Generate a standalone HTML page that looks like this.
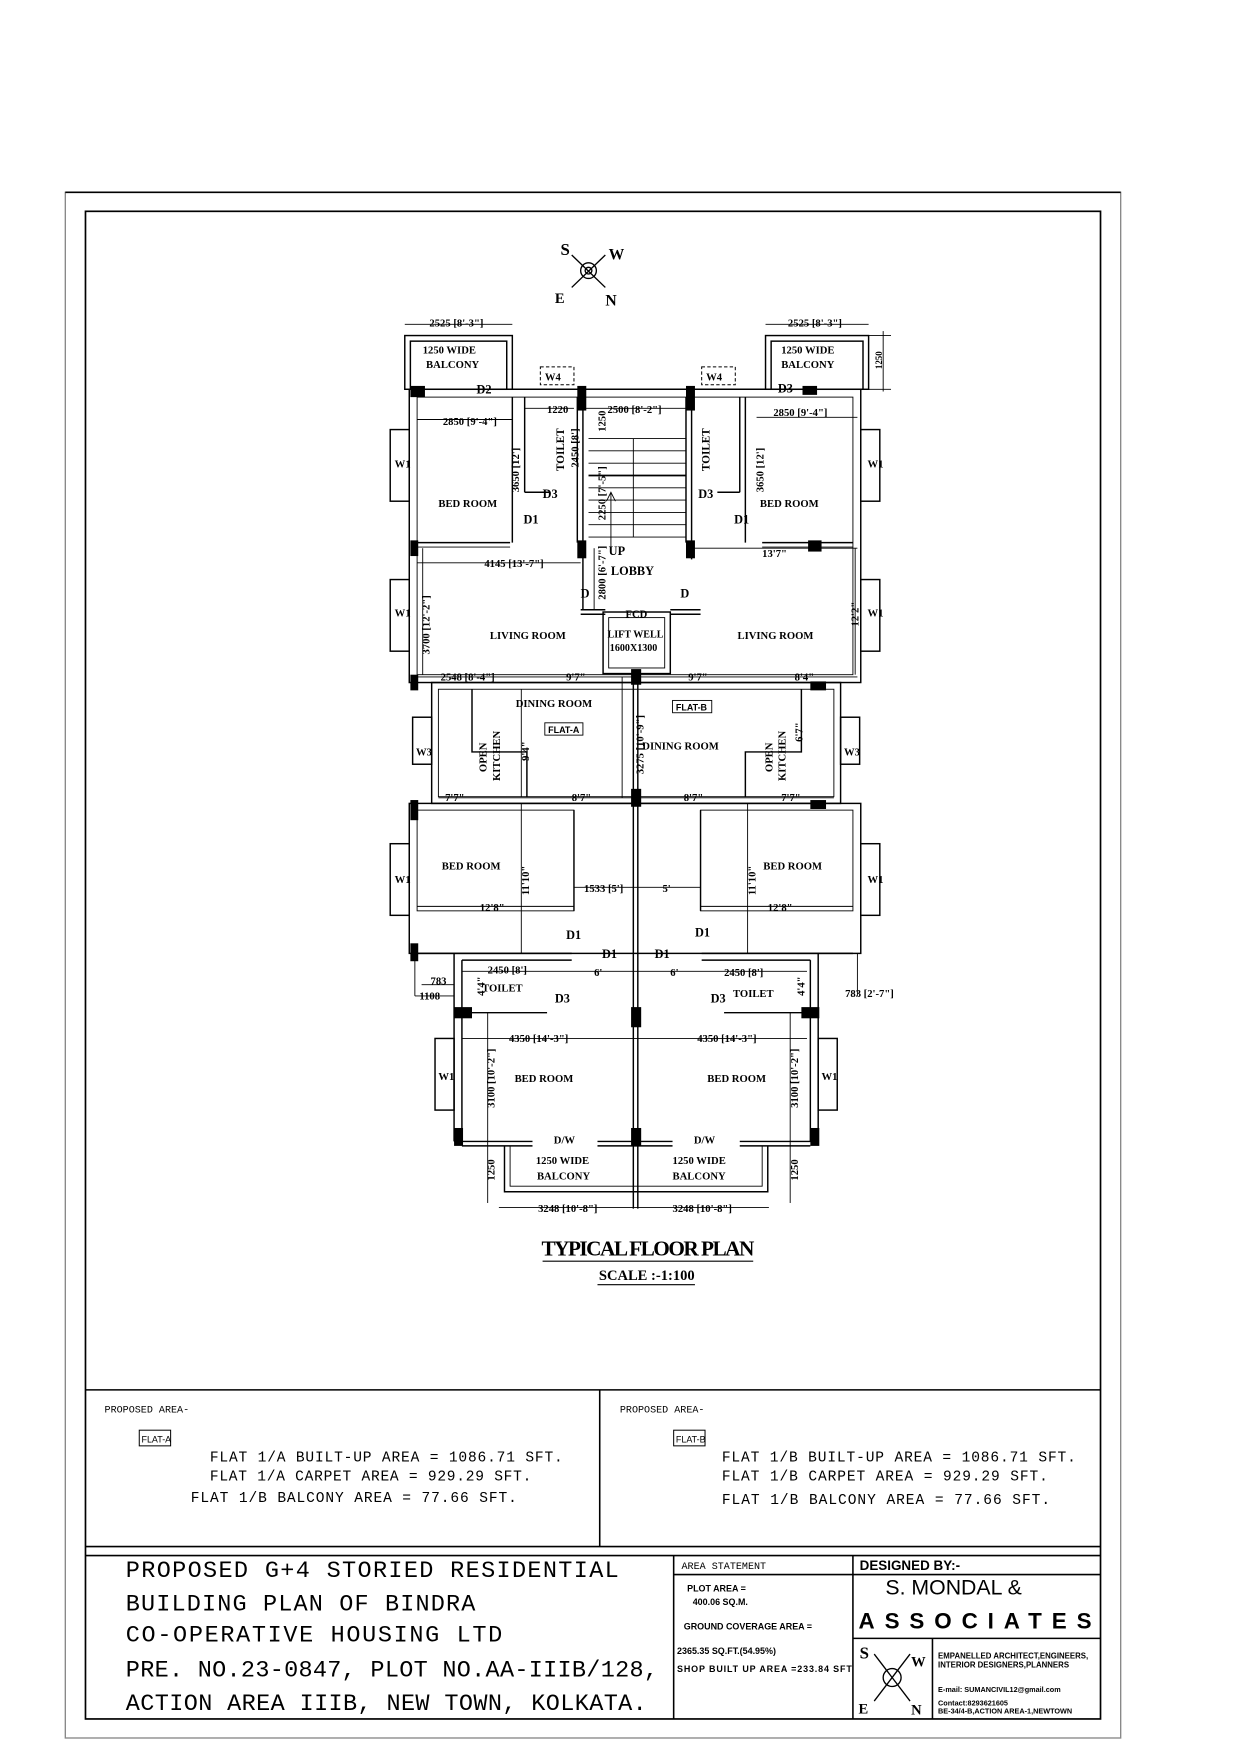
<!DOCTYPE html>
<html><head><meta charset="utf-8"><style>
html,body{margin:0;padding:0;background:#fff;}
svg{display:block;}
.l{font-family:"Liberation Serif",serif;font-weight:bold;fill:#000;}
.m{font-family:"Liberation Mono",monospace;fill:#000;}
.s{font-family:"Liberation Sans",sans-serif;fill:#000;}
</style></head><body>
<svg width="1240" height="1755" viewBox="-0.3 0.2 1106.8 1568" preserveAspectRatio="none" xmlns="http://www.w3.org/2000/svg">
<rect x="-1" y="0" width="1110" height="1575" fill="#fff"/>
<!-- borders -->
<rect x="58" y="172" width="942" height="1381" fill="none" stroke="#888" stroke-width="1.2"/>
<line x1="58" y1="172" x2="1000" y2="172" stroke="#000" stroke-width="1.5"/>
<rect x="76" y="189" width="906" height="1347" fill="none" stroke="#000" stroke-width="1.5"/>
<!-- compass -->
<g stroke="#000" fill="none" stroke-width="1.2">
<circle cx="525" cy="242" r="7"/><line x1="510" y1="228" x2="540" y2="257"/><line x1="540" y1="228" x2="510" y2="257"/>
<circle cx="525" cy="242" r="3"/></g>
<text class="l" x="500" y="228" font-size="15">S</text><text class="l" x="543" y="232" font-size="14">W</text>
<text class="l" x="495" y="271" font-size="13">E</text><text class="l" x="540" y="273" font-size="14">N</text>

<g stroke="#000" fill="none" stroke-width="1.3">
<rect x="361" y="300" width="96" height="48"/><rect x="366" y="305" width="86" height="43"/>
<rect x="683" y="300" width="92" height="48"/><rect x="688" y="305" width="82" height="43"/>
<line x1="457" y1="348" x2="683" y2="348"/>
<line x1="361" y1="290" x2="457" y2="290" stroke-width="0.8"/>
<line x1="683" y1="290" x2="775" y2="290" stroke-width="0.8"/>
<line x1="775" y1="300" x2="795" y2="300" stroke-width="0.8"/><line x1="775" y1="348" x2="795" y2="348" stroke-width="0.8"/><line x1="788" y1="296" x2="788" y2="350" stroke-width="0.8"/>
<rect x="482" y="328" width="30" height="16" stroke-dasharray="3,2" stroke-width="0.9"/>
<rect x="626" y="328" width="30" height="16" stroke-dasharray="3,2" stroke-width="0.9"/>
<rect x="365" y="348" width="403" height="262"/>
<rect x="372" y="355" width="389" height="248" stroke-width="0.8"/>
<line x1="457" y1="355" x2="457" y2="485"/><line x1="468" y1="355" x2="468" y2="440"/>
<line x1="515" y1="355" x2="515" y2="485"/><line x1="520" y1="355" x2="520" y2="545"/>
<line x1="612" y1="355" x2="612" y2="485"/><line x1="617" y1="355" x2="617" y2="485"/>
<line x1="660" y1="355" x2="660" y2="440"/><line x1="665" y1="355" x2="665" y2="485"/>
<line x1="468" y1="440" x2="490" y2="440"/><line x1="640" y1="440" x2="660" y2="440"/>
<g stroke-width="0.8">
<line x1="525" y1="392" x2="612" y2="392"/><line x1="525" y1="403" x2="612" y2="403"/><line x1="525" y1="414" x2="612" y2="414"/>
<line x1="525" y1="425" x2="612" y2="425" stroke-width="1.6"/><line x1="525" y1="436" x2="612" y2="436"/><line x1="525" y1="447" x2="612" y2="447"/>
<line x1="525" y1="458" x2="612" y2="458"/><line x1="525" y1="469" x2="612" y2="469"/><line x1="525" y1="480" x2="612" y2="480"/>
<line x1="565" y1="392" x2="565" y2="480"/>
<line x1="545" y1="490" x2="545" y2="440"/><polyline points="541,448 545,440 549,448"/>
</g>
<line x1="372" y1="485" x2="455" y2="485"/><line x1="372" y1="489" x2="455" y2="489" stroke-width="0.8"/>
<line x1="680" y1="485" x2="761" y2="485"/><line x1="680" y1="489" x2="761" y2="489" stroke-width="0.8"/>
<line x1="617" y1="485" x2="617" y2="500"/>
<rect x="538" y="547" width="60" height="55"/><rect x="543" y="552" width="50" height="45" stroke-width="0.8"/>
<line x1="518" y1="545" x2="540" y2="545"/><line x1="598" y1="545" x2="625" y2="545"/>
<line x1="518" y1="549" x2="540" y2="549"/><line x1="598" y1="549" x2="625" y2="549"/>
<rect x="385" y="610" width="365" height="108"/><rect x="391" y="616" width="353" height="96" stroke-width="0.8"/>
<polyline points="421,616 421,672 470,672 470,712"/><polyline points="715,616 715,672 665,672 665,712"/>
<line x1="465" y1="616" x2="465" y2="712" stroke-width="0.8"/>
<line x1="565" y1="600" x2="565" y2="1080"/><line x1="569" y1="600" x2="569" y2="1080"/>
<rect x="365" y="718" width="403" height="134"/>
<rect x="372" y="724" width="140" height="90" stroke-width="0.8"/><line x1="512" y1="724" x2="512" y2="814"/>
<rect x="625" y="724" width="136" height="90" stroke-width="0.8"/><line x1="625" y1="724" x2="625" y2="814"/>
<line x1="372" y1="852" x2="510" y2="852"/><line x1="626" y1="852" x2="761" y2="852"/>
<line x1="405" y1="852" x2="405" y2="1020"/><line x1="412" y1="858" x2="412" y2="1020"/>
<line x1="730" y1="852" x2="730" y2="1020"/><line x1="723" y1="858" x2="723" y2="1020"/>
<line x1="412" y1="858" x2="510" y2="858"/><line x1="626" y1="858" x2="723" y2="858"/>
<line x1="412" y1="905" x2="488" y2="905"/><line x1="646" y1="905" x2="723" y2="905"/>
<line x1="370" y1="852" x2="370" y2="890" stroke-width="0.8"/><line x1="765" y1="852" x2="765" y2="890" stroke-width="0.8"/>
<line x1="405" y1="1020" x2="475" y2="1020"/><line x1="412" y1="1024" x2="475" y2="1024"/>
<line x1="533" y1="1020" x2="600" y2="1020"/><line x1="533" y1="1024" x2="600" y2="1024"/>
<line x1="660" y1="1020" x2="730" y2="1020"/><line x1="660" y1="1024" x2="723" y2="1024"/>
<polyline points="450,1024 450,1065 685,1065 685,1024"/><polyline points="455,1024 455,1060 680,1060 680,1024" stroke-width="0.8"/>
<rect x="348" y="384" width="17" height="64"/><rect x="768" y="384" width="17" height="64"/>
<rect x="348" y="518" width="17" height="64"/><rect x="768" y="518" width="17" height="64"/>
<rect x="368" y="641" width="17" height="42"/><rect x="750" y="641" width="17" height="42"/>
<rect x="348" y="754" width="17" height="64"/><rect x="768" y="754" width="17" height="64"/>
<rect x="388" y="928" width="17" height="64"/><rect x="730" y="928" width="17" height="64"/>
</g>
<g fill="#000">
<rect x="366" y="345" width="13" height="10"/><rect x="515" y="345" width="8" height="22"/><rect x="612" y="345" width="8" height="22"/><rect x="716" y="345" width="13" height="8"/>
<rect x="366" y="483" width="7" height="14"/><rect x="515" y="483" width="8" height="16"/><rect x="612" y="483" width="8" height="16"/><rect x="721" y="483" width="12" height="10"/>
<rect x="366" y="603" width="7" height="14"/><rect x="563" y="598" width="9" height="14"/><rect x="723" y="609" width="14" height="8"/>
<rect x="563" y="705" width="9" height="16"/><rect x="366" y="715" width="7" height="18"/><rect x="723" y="715" width="14" height="8"/>
<rect x="366" y="843" width="7" height="16"/>
<rect x="405" y="900" width="16" height="10"/><rect x="563" y="900" width="9" height="18"/><rect x="715" y="900" width="16" height="10"/>
<rect x="405" y="1008" width="8" height="16"/><rect x="563" y="1008" width="9" height="16"/><rect x="723" y="1008" width="8" height="16"/>
</g>
<g stroke="#000" stroke-width="0.8">
<line x1="372" y1="375" x2="457" y2="375"/><line x1="468" y1="365" x2="512" y2="365"/><line x1="520" y1="365" x2="612" y2="365"/>
<line x1="675" y1="373" x2="765" y2="373"/><line x1="372" y1="503" x2="518" y2="503"/><line x1="615" y1="490" x2="765" y2="490"/>
<line x1="372" y1="605" x2="765" y2="605"/><line x1="391" y1="713" x2="744" y2="713"/>
<line x1="372" y1="810" x2="512" y2="810"/><line x1="625" y1="810" x2="761" y2="810"/><line x1="512" y1="793" x2="625" y2="793"/>
<line x1="412" y1="868" x2="720" y2="868"/><line x1="412" y1="928" x2="720" y2="928"/>
<line x1="445" y1="1079" x2="686" y2="1079"/><line x1="376" y1="880" x2="405" y2="880"/><line x1="370" y1="890" x2="405" y2="890"/>
<line x1="435" y1="1020" x2="435" y2="1075"/><line x1="705" y1="1020" x2="705" y2="1075"/>
<line x1="435" y1="905" x2="435" y2="1020"/><line x1="705" y1="905" x2="705" y2="1020"/>
<line x1="465" y1="718" x2="465" y2="852"/><line x1="667" y1="718" x2="667" y2="852"/>
<line x1="377" y1="490" x2="377" y2="603"/><line x1="763" y1="490" x2="763" y2="603"/>
<line x1="530" y1="490" x2="530" y2="545"/><line x1="555" y1="605" x2="555" y2="713"/>
</g>
<g class="l" font-size="9.5">
<text x="383" y="292">2525 [8'-3"]</text><text x="703" y="292">2525 [8'-3"]</text>
<text x="377" y="316">1250 WIDE</text><text x="380" y="329">BALCONY</text>
<text x="697" y="316">1250 WIDE</text><text x="697" y="329">BALCONY</text>
<text x="486" y="340">W4</text><text x="630" y="340">W4</text>
<text x="425" y="352" font-size="11">D2</text><text x="694" y="351" font-size="11">D3</text>
<text x="488" y="369">1220</text><text x="542" y="369">2500 [8'-2"]</text>
<text x="395" y="380">2850 [9'-4"]</text><text x="690" y="372">2850 [9'-4"]</text>
<text x="352" y="418">W1</text><text x="774" y="418">W1</text>
<text x="391" y="453">BED ROOM</text><text x="678" y="453">BED ROOM</text>
<text x="484" y="445" font-size="11">D3</text><text x="623" y="445" font-size="11">D3</text>
<text x="467" y="468" font-size="11">D1</text><text x="655" y="468" font-size="11">D1</text>
<text x="543" y="496" font-size="11">UP</text><text x="545" y="514" font-size="11">LOBBY</text>
<text x="432" y="507">4145 [13'-7"]</text><text x="680" y="498">13'7"</text>
<text x="518" y="534" font-size="11">D</text><text x="607" y="534" font-size="11">D</text>
<text x="558" y="552">FCD</text>
<text x="352" y="551">W1</text><text x="774" y="551">W1</text>
<text x="437" y="571">LIVING ROOM</text><text x="658" y="571">LIVING ROOM</text>
<text x="542" y="570" font-size="9">LIFT WELL</text><text x="544" y="582" font-size="9">1600X1300</text>
<text x="393" y="608">2548 [8'-4"]</text><text x="505" y="608">9'7"</text><text x="614" y="608">9'7"</text><text x="709" y="608">8'4"</text>
<text x="460" y="632">DINING ROOM</text><text x="573" y="670">DINING ROOM</text>
<rect x="486" y="646" width="34" height="11" fill="none" stroke="#000" stroke-width="0.8"/><text x="489" y="655" font-size="8" class="s">FLAT-A</text>
<rect x="600" y="626" width="35" height="11" fill="none" stroke="#000" stroke-width="0.8"/><text x="603" y="635" font-size="8" class="s">FLAT-B</text>
<text x="371" y="675">W3</text><text x="753" y="675">W3</text>
<text x="397" y="716">7'7"</text><text x="510" y="716">8'7"</text><text x="610" y="716">8'7"</text><text x="697" y="716">7'7"</text>
<text x="394" y="777">BED ROOM</text><text x="681" y="777">BED ROOM</text>
<text x="352" y="789">W1</text><text x="774" y="789">W1</text>
<text x="521" y="797">1533 [5']</text><text x="591" y="797">5'</text>
<text x="428" y="814">12'8"</text><text x="685" y="814">12'8"</text>
<text x="505" y="839" font-size="11">D1</text><text x="620" y="837" font-size="11">D1</text>
<text x="537" y="856" font-size="11">D1</text><text x="584" y="856" font-size="11">D1</text>
<text x="435" y="870">2450 [8']</text><text x="646" y="872">2450 [8']</text><text x="530" y="872">6'</text><text x="598" y="872">6'</text>
<text x="430" y="886">TOILET</text><text x="654" y="891">TOILET</text>
<text x="384" y="880">783</text><text x="374" y="893">1108</text><text x="754" y="891">783 [2'-7"]</text>
<text x="495" y="896" font-size="11">D3</text><text x="634" y="896" font-size="11">D3</text>
<text x="454" y="931">4350 [14'-3"]</text><text x="622" y="931">4350 [14'-3"]</text>
<text x="391" y="965">W1</text><text x="733" y="965">W1</text>
<text x="459" y="967">BED ROOM</text><text x="631" y="967">BED ROOM</text>
<text x="494" y="1022">D/W</text><text x="619" y="1022">D/W</text>
<text x="478" y="1040">1250 WIDE</text><text x="479" y="1054">BALCONY</text>
<text x="600" y="1040">1250 WIDE</text><text x="600" y="1054">BALCONY</text>
<text x="480" y="1083">3248 [10'-8"]</text><text x="600" y="1083">3248 [10'-8"]</text>
</g>
<g class="l" font-size="9.5">
<text transform="translate(463,440) rotate(-90)">3650 [12']</text><text transform="translate(681,440) rotate(-90)">3650 [12']</text>
<text transform="translate(503,421) rotate(-90)" font-size="10">TOILET</text><text transform="translate(633,421) rotate(-90)" font-size="10">TOILET</text>
<text transform="translate(516,418) rotate(-90)">2450 [8']</text><text transform="translate(540,386) rotate(-90)">1250</text>
<text transform="translate(540,465) rotate(-90)">2250 [7'-5"]</text><text transform="translate(540,536) rotate(-90)">2800 [6'-7"]</text>
<text transform="translate(383,585) rotate(-90)">3700 [12'-2"]</text><text transform="translate(766,560) rotate(-90)">12'2"</text>
<text transform="translate(434,690) rotate(-90)">OPEN</text><text transform="translate(446,698) rotate(-90)">KITCHEN</text>
<text transform="translate(689,690) rotate(-90)">OPEN</text><text transform="translate(701,698) rotate(-90)">KITCHEN</text>
<text transform="translate(472,680) rotate(-90)">9'4"</text><text transform="translate(716,663) rotate(-90)">6'7"</text>
<text transform="translate(574,692) rotate(-90)">3275 [10'-9"]</text>
<text transform="translate(472,800) rotate(-90)">11'10"</text><text transform="translate(674,800) rotate(-90)">11'10"</text>
<text transform="translate(432,890) rotate(-90)">4'4"</text><text transform="translate(718,890) rotate(-90)">4'4"</text>
<text transform="translate(441,990) rotate(-90)">3100 [10'-2"]</text><text transform="translate(712,990) rotate(-90)">3100 [10'-2"]</text>
<text transform="translate(441,1055) rotate(-90)">1250</text><text transform="translate(712,1055) rotate(-90)">1250</text>
<text transform="translate(787,330) rotate(-90)" font-size="8">1250</text>
</g>
<text class="l" x="578" y="1122" font-size="19" text-anchor="middle" textLength="190">TYPICAL FLOOR PLAN</text>
<line x1="484" y1="1127" x2="672" y2="1127" stroke="#000" stroke-width="1"/>
<text class="l" x="577" y="1144" font-size="13" text-anchor="middle">SCALE :-1:100</text>
<line x1="533" y1="1148" x2="620" y2="1148" stroke="#000" stroke-width="1"/>

<g stroke="#000" stroke-width="1.4" fill="none">
<line x1="76" y1="1242" x2="982" y2="1242"/>
<line x1="535" y1="1242" x2="535" y2="1382"/>
<line x1="76" y1="1382" x2="982" y2="1382"/><line x1="76" y1="1390" x2="982" y2="1390"/>
<line x1="601" y1="1390" x2="601" y2="1536"/><line x1="761" y1="1390" x2="761" y2="1536"/>
<line x1="601" y1="1407" x2="982" y2="1407"/><line x1="761" y1="1464" x2="982" y2="1464"/>
<line x1="832" y1="1464" x2="832" y2="1536"/>
<rect x="124" y="1278" width="28" height="14" stroke-width="0.9"/><rect x="601" y="1278" width="28" height="14" stroke-width="0.9"/>
</g>
<g class="m">
<text x="93" y="1262" font-size="9">PROPOSED AREA-</text><text x="553" y="1262" font-size="9">PROPOSED AREA-</text>
<text x="126" y="1289" font-size="8" class="s">FLAT-A</text><text x="603" y="1289" font-size="8" class="s">FLAT-B</text>
<text x="187" y="1306" font-size="13" textLength="315">FLAT 1/A BUILT-UP AREA = 1086.71 SFT.</text>
<text x="187" y="1323" font-size="13" textLength="287">FLAT 1/A CARPET AREA = 929.29 SFT.</text>
<text x="170" y="1342" font-size="13" textLength="291">FLAT 1/B BALCONY AREA = 77.66 SFT.</text>
<text x="644" y="1306" font-size="13" textLength="316">FLAT 1/B BUILT-UP AREA = 1086.71 SFT.</text>
<text x="644" y="1323" font-size="13" textLength="291">FLAT 1/B CARPET AREA = 929.29 SFT.</text>
<text x="644" y="1344" font-size="13" textLength="293">FLAT 1/B BALCONY AREA = 77.66 SFT.</text>
<text x="112" y="1409" font-size="21" textLength="440">PROPOSED G+4 STORIED RESIDENTIAL</text>
<text x="112" y="1439" font-size="21" textLength="312">BUILDING PLAN OF BINDRA</text>
<text x="112" y="1467" font-size="21" textLength="336">CO-OPERATIVE HOUSING LTD</text>
<text x="112" y="1498" font-size="21" textLength="475">PRE. NO.23-0847, PLOT NO.AA-IIIB/128,</text>
<text x="112" y="1528" font-size="21" textLength="465">ACTION AREA IIIB, NEW TOWN, KOLKATA.</text>
<text x="608" y="1402" font-size="9">AREA STATEMENT</text>
</g>
<g class="s" font-weight="bold">
<text x="613" y="1422" font-size="8">PLOT AREA =</text><text x="618" y="1434" font-size="8">400.06 SQ.M.</text>
<text x="610" y="1456" font-size="8">GROUND COVERAGE AREA =</text>
<text x="604" y="1478" font-size="8">2365.35 SQ.FT.(54.95%)</text>
<text x="604" y="1494" font-size="8" textLength="156">SHOP BUILT UP AREA =233.84 SFT</text>
<text x="767" y="1403" font-size="12">DESIGNED BY:-</text>
<text x="790" y="1425" font-size="19" font-weight="normal">S. MONDAL &amp;</text>
<text x="766" y="1455" font-size="20" textLength="208">ASSOCIATES</text>
<text x="837" y="1482" font-size="7">EMPANELLED ARCHITECT,ENGINEERS,</text>
<text x="837" y="1490" font-size="7">INTERIOR DESIGNERS,PLANNERS</text>
<text x="837" y="1512" font-size="6.5">E-mail: SUMANCIVIL12@gmail.com</text>
<text x="837" y="1524" font-size="6.5">Contact:8293621605</text>
<text x="837" y="1531" font-size="6.5">BE-34/4-B,ACTION AREA-1,NEWTOWN</text>
</g>
<g stroke="#000" stroke-width="1.2" fill="none">
<line x1="780" y1="1478" x2="812" y2="1520"/><line x1="812" y1="1478" x2="780" y2="1520"/><circle cx="796" cy="1499" r="8"/>
</g>
<text class="l" x="767" y="1482" font-size="15">S</text><text class="l" x="813" y="1489" font-size="13">W</text>
<text class="l" x="766" y="1531" font-size="13">E</text><text class="l" x="813" y="1532" font-size="13">N</text>
</svg>
</body></html>
